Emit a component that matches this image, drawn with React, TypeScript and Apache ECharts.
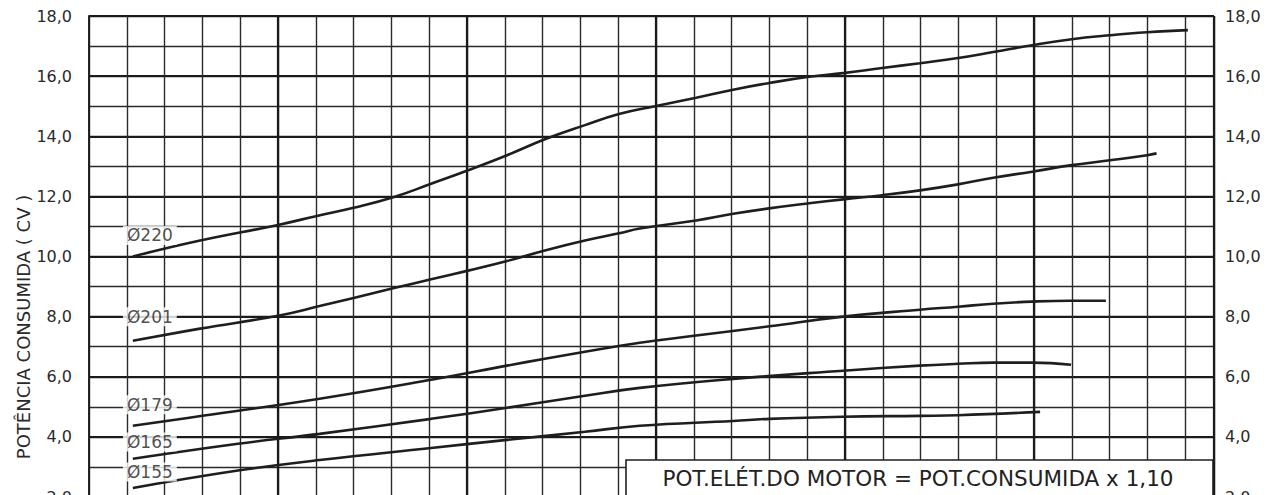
import React, { useEffect, useRef } from "react";
import * as echarts from "echarts";

const FONT = "DejaVu Sans";
const INK = "#1e1e1e";

// x in grid-cell units (unlabelled in the reference), y in CV
const x220 = [1.16, 2.94, 5.0, 6.03, 7.0, 8.07, 9.05, 10.03, 11.06, 12.06, 13.12, 14.02, 14.97, 16.06, 17.04, 17.99, 19.05, 19.95, 20.98, 21.98, 22.99, 23.92, 24.95, 25.95, 27.01, 27.99, 29.07];
const y220 = [10.0, 10.53, 11.05, 11.35, 11.62, 11.98, 12.42, 12.87, 13.37, 13.9, 14.37, 14.74, 15.0, 15.28, 15.55, 15.77, 15.98, 16.1, 16.27, 16.43, 16.6, 16.8, 17.03, 17.22, 17.36, 17.46, 17.53];

const x201 = [1.16, 2.94, 5.0, 6.1, 7.0, 8.07, 9.05, 10.03, 11.06, 12.06, 13.12, 14.02, 14.57, 16.06, 17.04, 17.99, 19.05, 19.95, 20.98, 21.98, 22.99, 23.92, 24.95, 25.95, 27.01, 27.99, 28.24];
const y201 = [7.2, 7.6, 8.03, 8.35, 8.62, 8.95, 9.24, 9.53, 9.85, 10.2, 10.53, 10.77, 10.93, 11.2, 11.42, 11.6, 11.77, 11.9, 12.04, 12.2, 12.4, 12.62, 12.82, 13.03, 13.2, 13.37, 13.43];

const x179 = [1.16, 3.0, 6.1, 9.05, 11.06, 12.06, 13.12, 14.57, 16.06, 18.0, 19.95, 21.98, 22.99, 23.92, 24.95, 25.95, 26.9];
const y179 = [4.37, 4.7, 5.27, 5.9, 6.37, 6.6, 6.83, 7.13, 7.37, 7.68, 8.0, 8.23, 8.33, 8.43, 8.5, 8.53, 8.53];

const x165 = [1.16, 3.94, 6.1, 9.05, 11.06, 13.12, 14.57, 17.04, 19.95, 21.98, 22.99, 23.92, 24.95, 25.98];
const y165 = [3.27, 3.77, 4.1, 4.6, 4.97, 5.37, 5.63, 5.93, 6.2, 6.37, 6.43, 6.47, 6.47, 6.4];

const x155 = [1.16, 3.94, 6.1, 9.05, 11.06, 13.12, 14.57, 17.04, 18.0, 19.95, 21.98, 22.99, 25.16];
const y155 = [2.3, 2.88, 3.23, 3.63, 3.9, 4.17, 4.37, 4.53, 4.6, 4.67, 4.7, 4.72, 4.83];

const curveNames = ["Ø220", "Ø201", "Ø179", "Ø165", "Ø155"];
const curveX = [x220, x201, x179, x165, x155];
const curveY = [y220, y201, y179, y165, y155];
const labelX = [1.61, 1.61, 1.61, 1.61, 1.61];
const labelY = [10.7, 8.0, 5.07, 3.83, 2.83];

const yAxisTitle = "POTÊNCIA CONSUMIDA ( CV )";
const boxText = "POT.ELÉT.DO MOTOR = POT.CONSUMIDA x 1,10";

const X_MIN = 0;
const X_MAX = 29.76;
const Y_MIN = 2;
const Y_MAX = 18;

const fmt = (v: number) => (Math.round(v) % 2 === 0 ? v.toFixed(1).replace(".", ",") : "");

export default function App() {
  const ref = useRef<HTMLDivElement>(null);
  useEffect(() => {
    if (!ref.current) return;
    const chart = echarts.init(ref.current, undefined, { renderer: "svg" });
    const lineSeries = curveNames.map((name, i) => ({
      type: "line",
      name,
      xAxisIndex: 0,
      yAxisIndex: 0,
      data: curveX[i].map((x, j) => [x, curveY[i][j]]),
      smooth: 0.45,
      showSymbol: false,
      symbol: "none",
      lineStyle: { color: INK, width: 2.6 },
      z: 3,
      silent: true,
    }));
    const labelSeries = {
      type: "scatter",
      xAxisIndex: 0,
      yAxisIndex: 0,
      symbolSize: 1,
      itemStyle: { color: "rgba(0,0,0,0)" },
      data: curveNames.map((n, i) => ({ name: n, value: [labelX[i], labelY[i]] })),
      label: {
        show: true,
        position: "inside",
        formatter: "{b}",
        backgroundColor: "#fff",
        padding: [1, 4],
        color: "#222",
        fontSize: 17,
        fontFamily: FONT,
      },
      z: 5,
      silent: true,
    };
    chart.setOption({
      animation: false,
      backgroundColor: "#fff",
      grid: { left: 89, right: 50, top: 16, bottom: 33, containLabel: false },
      xAxis: [
        {
          type: "value",
          min: X_MIN,
          max: X_MAX,
          interval: 1,
          axisLabel: { show: false },
          axisTick: { show: false },
          axisLine: { show: false },
          splitLine: { show: true, lineStyle: { color: "#2a2a2a", width: 1.4 } },
        },
        {
          type: "value",
          min: X_MIN,
          max: X_MAX,
          interval: 5,
          axisLabel: { show: false },
          axisTick: { show: false },
          axisLine: { show: false },
          splitLine: { show: true, showMinLine: false, lineStyle: { color: "#1a1a1a", width: 2.2 } },
        },
      ],
      yAxis: [
        {
          type: "value",
          position: "left",
          min: Y_MIN,
          max: Y_MAX,
          interval: 1,
          axisLine: { show: true, lineStyle: { color: INK, width: 1.6 } },
          axisTick: { show: false },
          axisLabel: { formatter: fmt, color: "#2a2a2a", fontSize: 16, fontFamily: FONT, margin: 17 },
          splitLine: { show: true, lineStyle: { color: "#2a2a2a", width: 1.4 } },
        },
        {
          type: "value",
          position: "right",
          min: Y_MIN,
          max: Y_MAX,
          interval: 2,
          axisLine: { show: true, lineStyle: { color: INK, width: 1.6 } },
          axisTick: { show: false },
          axisLabel: { formatter: fmt, color: "#2a2a2a", fontSize: 16, fontFamily: FONT, margin: 11 },
          splitLine: { show: true, lineStyle: { color: "#1a1a1a", width: 2 } },
        },
      ],
      graphic: [
        {
          type: "text",
          x: 23,
          y: 327,
          rotation: Math.PI / 2,
          z: 100,
          style: {
            text: yAxisTitle,
            fontSize: 18,
            fontFamily: FONT,
            fill: "#2a2a2a",
            align: "center",
            verticalAlign: "middle",
          },
        },
        {
          type: "rect",
          shape: { x: 626, y: 460, width: 587, height: 60 },
          z: 100,
          style: { fill: "#fff", stroke: INK, lineWidth: 1.6 },
        },
        {
          type: "text",
          x: 918,
          y: 478,
          z: 101,
          style: {
            text: boxText,
            fontSize: 21.5,
            fontFamily: FONT,
            fill: "#222",
            align: "center",
            verticalAlign: "middle",
          },
        },
      ],
      series: [...lineSeries, labelSeries],
    });
    return () => chart.dispose();
  }, []);
  return (
    <div
      ref={ref}
      style={{ position: "fixed", left: 0, top: 0, width: 1264, height: 530, background: "#fff" }}
    />
  );
}
